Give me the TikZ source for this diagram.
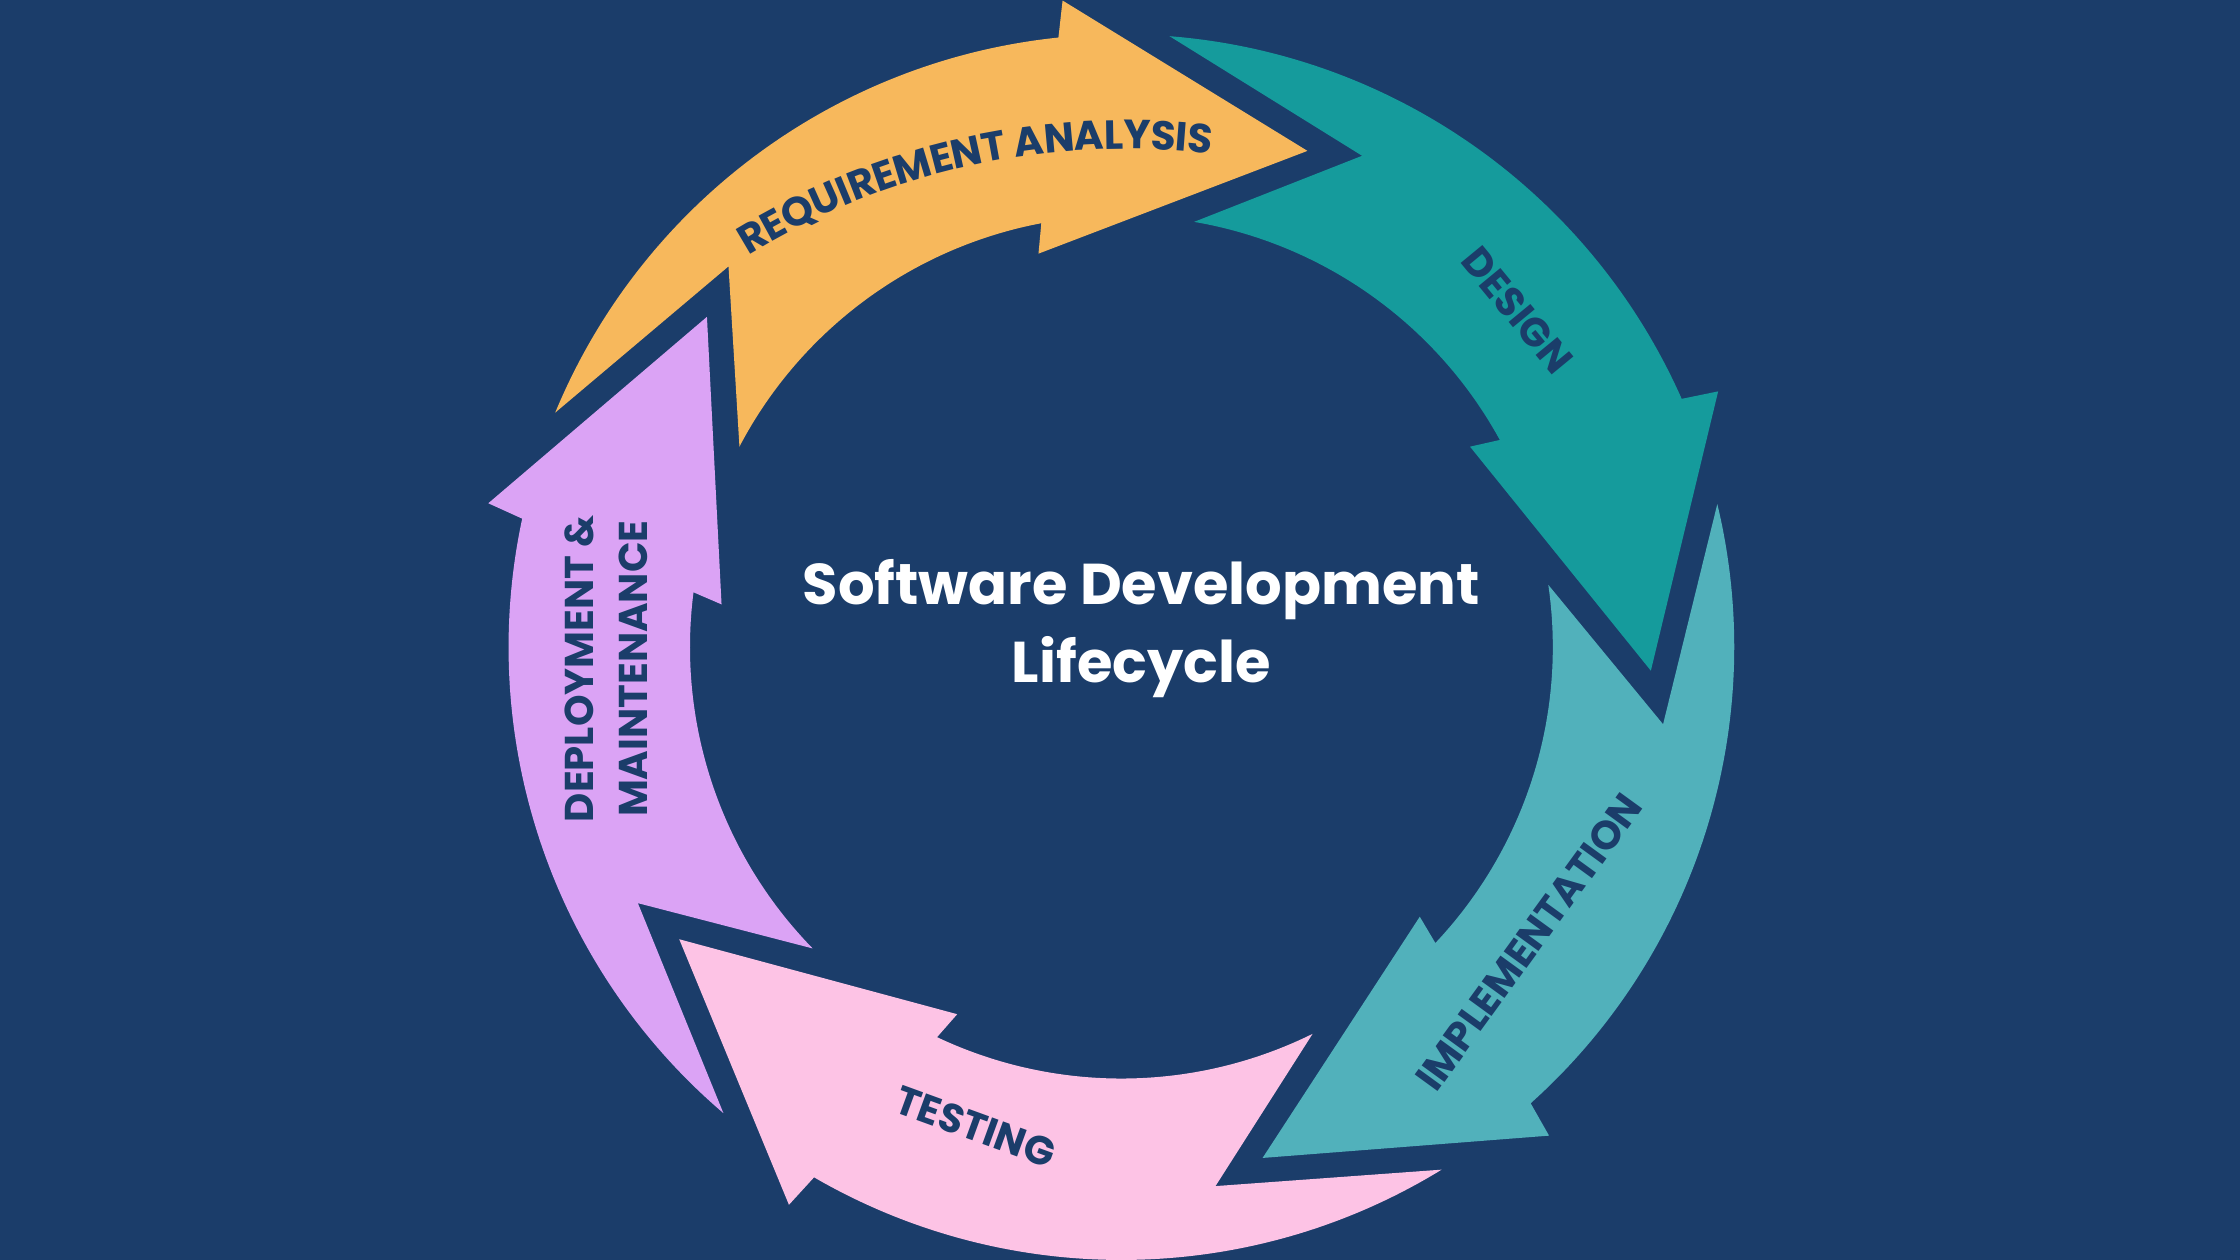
\documentclass[tikz,border=0pt]{standalone}
\usepackage{fontspec}
\setmainfont{Poppins}
\usetikzlibrary{decorations.text}
\definecolor{sdlc_bg}{HTML}{1B3D6A}
\definecolor{sdlc_orange}{HTML}{F7B85C}
\definecolor{sdlc_teal}{HTML}{159B9C}
\definecolor{sdlc_aqua}{HTML}{51B1BB}
\definecolor{sdlc_pink}{HTML}{FDC3E5}
\definecolor{sdlc_lilac}{HTML}{DBA3F5}

\tikzset{
  phase label/.style={text=sdlc_bg, font=\fontsize{8}{10.8}\selectfont\bfseries, align=center, inner sep=0pt},
}

\begin{document}
\begin{tikzpicture}[x=0.01cm, y=0.01cm]
    % Canvas: 1568 x 882 units, ring centred at the origin
    \fill[sdlc_bg] (-785,-429) rectangle (783,453);
    \useasboundingbox (-785,-429) rectangle (783,453);

    % Five curved arrows, each turned 72 degrees further clockwise
    \foreach \k/\col in {0/sdlc_orange, 1/sdlc_teal, 2/sdlc_aqua, 3/sdlc_pink, 4/sdlc_lilac} {
      \begin{scope}[rotate=-72*\k]
        \fill[\col] (157.5:429) arc[start angle=157.5, end angle=95.9, radius=429]
          -- (95.2:454.5) -- (69.45:371) -- (101.9:281.5) -- (100.7:302)
          arc[start angle=100.7, end angle=152.3, radius=302]
          -- (135.9:383) -- cycle;
      \end{scope}
    }

    % Curved label on the first arrow
    \path[decorate, decoration={text along path, text align=center, raise=-2.9pt,
        text={|\color{sdlc_bg}\fontsize{8.1}{9}\selectfont\bfseries|REQUIREMENT ANALYSIS}}]
      (3,-155) ++(132.4:514) arc[start angle=132.4, end angle=72.4, radius=514];

    % Straight labels on the other arrows
    \node[phase label, rotate=-50.5] (design) at (40.4:364) {DESIGN};
    \node[phase label, rotate=54] (implementation) at (-35.9:352) {IMPLEMENTATION};
    \node[phase label, rotate=-20] (testing) at (-106.9:351) {TESTING};
    \node[phase label, rotate=90] (deployment) at (182.4:361) {DEPLOYMENT \&\\MAINTENANCE};

    % Title in the middle
    \node[text=white, font=\fontsize{11.45}{15.6}\selectfont\bfseries, align=center] (title) at (14,13)
      {Software Development\\Lifecycle};
\end{tikzpicture}
\end{document}
